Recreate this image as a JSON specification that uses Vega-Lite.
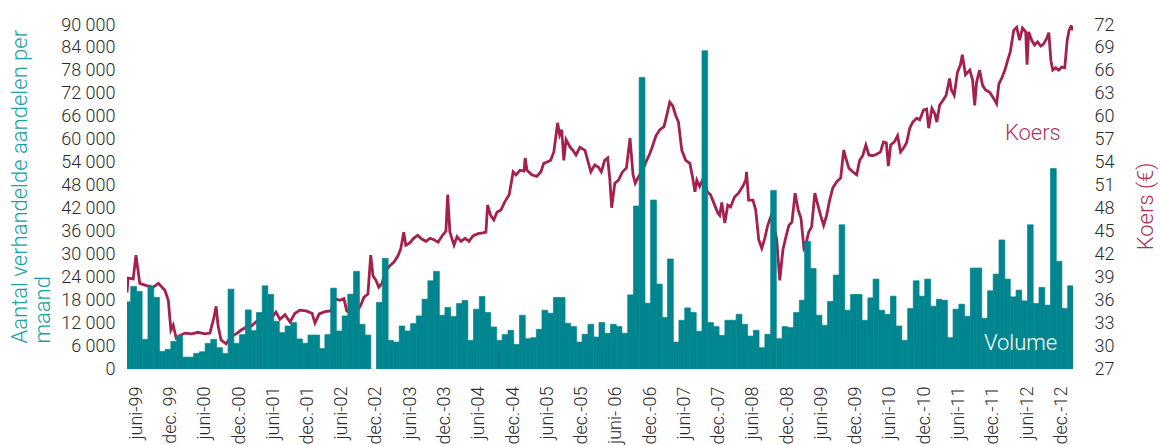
{
 "$schema": "https://vega.github.io/schema/vega-lite/v6.json",
 "width": 946,
 "height": 344,
 "autosize": {"type": "none"},
 "padding": {"left": 127, "top": 25, "right": 87, "bottom": 76},
 "background": "white",
 "config": {
  "view": {"stroke": null},
  "font": "Roboto",
  "axis": {"labelFont": "Roboto", "labelFontWeight": 300, "labelFontSize": 18, "labelColor": "#2b2b2b", "titleFont": "Roboto", "titleFontWeight": 300, "titleFontSize": 22, "labelFlush": false, "grid": false, "ticks": false, "domain": false, "labelOverlap": false},
  "axisX": {"labelOverlap": false, "labelBound": false, "labelSeparation": 0, "tickCount": 100}
 },
 "datasets": {
  "koers": [
   {"d":"1999-04-14","p":37.0},{"d":"1999-04-20","p":38.9},{"d":"1999-05-17","p":38.8},{"d":"1999-06-01","p":41.9},{"d":"1999-06-21","p":38.2},{"d":"1999-07-27","p":37.9},{"d":"1999-09-01","p":37.7},{"d":"1999-09-28","p":38.2},{"d":"1999-11-02","p":37.3},{"d":"1999-11-20","p":36.0},{"d":"1999-12-04","p":32.1},{"d":"1999-12-16","p":32.75},
   {"d":"2000-01-01","p":31.05},{"d":"2000-01-22","p":31.4},{"d":"2000-02-17","p":31.7},{"d":"2000-03-25","p":31.6},{"d":"2000-04-26","p":31.8},{"d":"2000-06-02","p":31.6},{"d":"2000-06-29","p":31.7},{"d":"2000-07-20","p":33.7},{"d":"2000-08-01","p":35.2},{"d":"2000-08-11","p":32.75},{"d":"2000-08-27","p":30.8},{"d":"2000-09-23","p":30.3},{"d":"2000-10-19","p":31.2},{"d":"2000-11-16","p":31.6},{"d":"2000-12-13","p":32.1},
   {"d":"2001-01-10","p":32.5},{"d":"2001-02-04","p":32.6},{"d":"2001-03-01","p":33.15},{"d":"2001-03-28","p":33.7},{"d":"2001-04-23","p":33.4},{"d":"2001-05-19","p":33.5},{"d":"2001-06-16","p":34.45},{"d":"2001-07-07","p":33.5},{"d":"2001-08-03","p":34.1},{"d":"2001-08-30","p":33.15},{"d":"2001-09-25","p":34.3},{"d":"2001-10-22","p":34.7},{"d":"2001-11-23","p":34.6},{"d":"2001-12-25","p":34.3},
   {"d":"2002-01-10","p":33.0},{"d":"2002-02-01","p":34.2},{"d":"2002-03-04","p":34.5},{"d":"2002-04-04","p":34.6},{"d":"2002-04-25","p":36.2},{"d":"2002-05-22","p":36.0},{"d":"2002-06-13","p":36.2},{"d":"2002-06-28","p":34.6},{"d":"2002-07-25","p":34.3},{"d":"2002-08-22","p":34.5},{"d":"2002-09-12","p":35.4},{"d":"2002-09-28","p":36.4},{"d":"2002-10-19","p":36.8},{"d":"2002-11-03","p":41.9},{"d":"2002-11-15","p":39.2},{"d":"2002-12-01","p":38.6},{"d":"2002-12-16","p":37.7},
   {"d":"2003-01-02","p":38.2},{"d":"2003-01-23","p":39.9},{"d":"2003-02-13","p":40.5},{"d":"2003-03-07","p":41.0},{"d":"2003-03-28","p":41.8},{"d":"2003-04-12","p":42.7},{"d":"2003-04-28","p":44.9},{"d":"2003-05-09","p":43.2},{"d":"2003-05-30","p":43.5},{"d":"2003-06-20","p":44.1},{"d":"2003-07-11","p":44.5},{"d":"2003-08-02","p":44.0},{"d":"2003-08-24","p":43.7},{"d":"2003-09-15","p":44.1},{"d":"2003-10-06","p":43.9},{"d":"2003-10-28","p":43.6},{"d":"2003-11-18","p":44.4},{"d":"2003-12-09","p":45.05},{"d":"2003-12-18","p":49.8},{"d":"2003-12-30","p":44.9},
   {"d":"2004-01-21","p":43.2},{"d":"2004-02-06","p":44.3},{"d":"2004-02-28","p":43.7},{"d":"2004-03-20","p":44.1},{"d":"2004-04-10","p":43.7},{"d":"2004-05-01","p":44.4},{"d":"2004-05-28","p":44.7},{"d":"2004-06-22","p":44.8},{"d":"2004-07-09","p":44.9},{"d":"2004-07-18","p":48.45},{"d":"2004-08-03","p":47.1},{"d":"2004-08-20","p":46.5},{"d":"2004-09-06","p":47.5},{"d":"2004-09-27","p":47.8},{"d":"2004-10-18","p":48.9},{"d":"2004-11-10","p":49.8},{"d":"2004-11-22","p":51.5},{"d":"2004-12-01","p":52.8},{"d":"2004-12-16","p":52.4},
   {"d":"2005-01-07","p":53.0},{"d":"2005-01-28","p":52.9},{"d":"2005-02-03","p":54.6},{"d":"2005-02-13","p":53.0},{"d":"2005-03-10","p":52.4},{"d":"2005-04-06","p":52.2},{"d":"2005-04-28","p":52.8},{"d":"2005-05-13","p":53.9},{"d":"2005-06-03","p":54.1},{"d":"2005-06-19","p":54.3},{"d":"2005-07-06","p":55.4},{"d":"2005-07-26","p":59.2},{"d":"2005-08-06","p":57.6},{"d":"2005-08-17","p":58.3},{"d":"2005-08-28","p":54.3},{"d":"2005-09-09","p":57.0},{"d":"2005-10-01","p":56.0},{"d":"2005-10-16","p":55.6},{"d":"2005-11-01","p":55.0},{"d":"2005-11-22","p":56.0},{"d":"2005-12-19","p":55.6},
   {"d":"2006-01-09","p":53.7},{"d":"2006-01-19","p":52.8},{"d":"2006-02-09","p":53.7},{"d":"2006-03-01","p":53.4},{"d":"2006-03-16","p":52.8},{"d":"2006-04-03","p":54.3},{"d":"2006-04-19","p":54.6},{"d":"2006-05-01","p":51.6},{"d":"2006-05-10","p":48.1},{"d":"2006-05-27","p":51.3},{"d":"2006-06-16","p":51.7},{"d":"2006-07-07","p":52.8},{"d":"2006-07-28","p":53.3},{"d":"2006-08-16","p":57.2},{"d":"2006-09-01","p":52.4},{"d":"2006-09-13","p":51.3},{"d":"2006-10-01","p":52.2},{"d":"2006-10-22","p":53.0},{"d":"2006-11-13","p":54.3},{"d":"2006-12-01","p":55.25},{"d":"2006-12-16","p":56.3},
   {"d":"2007-01-01","p":57.5},{"d":"2007-01-22","p":58.3},{"d":"2007-02-13","p":58.7},{"d":"2007-02-28","p":60.2},{"d":"2007-03-16","p":61.9},{"d":"2007-04-01","p":61.4},{"d":"2007-04-16","p":60.2},{"d":"2007-05-01","p":59.3},{"d":"2007-05-19","p":55.6},{"d":"2007-06-09","p":54.3},{"d":"2007-07-01","p":53.9},{"d":"2007-07-16","p":52.0},{"d":"2007-07-28","p":50.2},{"d":"2007-08-07","p":51.7},{"d":"2007-08-22","p":50.9},{"d":"2007-09-08","p":51.8},{"d":"2007-10-03","p":50.15},{"d":"2007-10-19","p":49.8},{"d":"2007-11-06","p":48.7},{"d":"2007-11-27","p":47.4},{"d":"2007-12-07","p":47.1},{"d":"2007-12-18","p":48.8},
   {"d":"2008-01-03","p":46.1},{"d":"2008-01-19","p":48.45},{"d":"2008-02-03","p":48.2},{"d":"2008-02-24","p":49.5},{"d":"2008-03-16","p":50.0},{"d":"2008-04-08","p":50.9},{"d":"2008-04-24","p":51.7},{"d":"2008-04-28","p":52.8},{"d":"2008-05-09","p":49.1},{"d":"2008-06-01","p":49.1},{"d":"2008-06-16","p":47.8},{"d":"2008-07-02","p":43.9},{"d":"2008-07-18","p":42.8},{"d":"2008-08-03","p":44.1},{"d":"2008-08-19","p":45.8},{"d":"2008-09-04","p":46.9},{"d":"2008-09-20","p":45.8},{"d":"2008-10-06","p":43.9},{"d":"2008-10-22","p":38.6},{"d":"2008-11-08","p":42.6},{"d":"2008-11-24","p":44.3},{"d":"2008-12-10","p":45.8},{"d":"2008-12-26","p":46.2},
   {"d":"2009-01-12","p":50.0},{"d":"2009-01-28","p":47.8},{"d":"2009-02-12","p":46.75},{"d":"2009-02-28","p":42.8},{"d":"2009-03-09","p":43.2},{"d":"2009-03-25","p":44.9},{"d":"2009-04-10","p":45.6},{"d":"2009-04-27","p":50.0},{"d":"2009-05-13","p":48.45},{"d":"2009-05-28","p":47.1},{"d":"2009-06-13","p":45.8},{"d":"2009-06-29","p":47.1},{"d":"2009-07-15","p":49.1},{"d":"2009-08-01","p":50.7},{"d":"2009-08-22","p":51.5},{"d":"2009-09-12","p":52.0},{"d":"2009-09-28","p":55.65},{"d":"2009-10-09","p":54.6},{"d":"2009-10-25","p":53.3},{"d":"2009-11-15","p":52.8},{"d":"2009-12-06","p":52.4},{"d":"2009-12-22","p":54.3},
   {"d":"2010-01-07","p":54.9},{"d":"2010-01-24","p":56.3},{"d":"2010-02-09","p":55.0},{"d":"2010-03-01","p":54.9},{"d":"2010-03-22","p":55.1},{"d":"2010-04-12","p":55.4},{"d":"2010-04-28","p":56.7},{"d":"2010-05-13","p":56.6},{"d":"2010-05-24","p":53.55},{"d":"2010-06-05","p":56.3},{"d":"2010-06-25","p":56.7},{"d":"2010-07-12","p":57.5},{"d":"2010-07-28","p":55.4},{"d":"2010-08-13","p":55.9},{"d":"2010-08-29","p":56.6},{"d":"2010-09-15","p":58.5},{"d":"2010-10-01","p":59.3},{"d":"2010-10-22","p":59.8},{"d":"2010-11-07","p":59.6},{"d":"2010-11-28","p":60.9},{"d":"2010-12-14","p":61.0},{"d":"2010-12-25","p":58.5},
   {"d":"2011-01-11","p":61.1},{"d":"2011-01-27","p":60.35},{"d":"2011-02-06","p":59.3},{"d":"2011-02-21","p":61.5},{"d":"2011-03-12","p":62.2},{"d":"2011-03-28","p":62.8},{"d":"2011-04-15","p":65.0},{"d":"2011-04-25","p":63.5},{"d":"2011-05-10","p":62.8},{"d":"2011-05-27","p":65.8},{"d":"2011-06-12","p":66.8},{"d":"2011-06-22","p":68.1},{"d":"2011-07-09","p":65.5},{"d":"2011-08-01","p":66.1},{"d":"2011-08-16","p":64.8},{"d":"2011-08-27","p":61.5},{"d":"2011-09-06","p":64.5},{"d":"2011-09-22","p":66.1},{"d":"2011-10-08","p":64.1},{"d":"2011-10-24","p":63.5},{"d":"2011-11-15","p":63.2},{"d":"2011-12-06","p":62.4},{"d":"2011-12-22","p":61.7},
   {"d":"2012-01-03","p":64.3},{"d":"2012-01-19","p":65.1},{"d":"2012-02-04","p":66.1},{"d":"2012-02-19","p":67.4},{"d":"2012-03-04","p":68.5},{"d":"2012-03-22","p":71.3},{"d":"2012-04-07","p":71.7},{"d":"2012-04-22","p":70.0},{"d":"2012-05-08","p":71.6},{"d":"2012-05-25","p":71.1},{"d":"2012-06-01","p":66.8},{"d":"2012-06-10","p":71.1},{"d":"2012-06-26","p":70.0},{"d":"2012-07-11","p":69.4},{"d":"2012-07-27","p":69.8},{"d":"2012-08-13","p":69.25},{"d":"2012-08-28","p":69.5},{"d":"2012-09-15","p":70.3},{"d":"2012-09-25","p":71.0},{"d":"2012-10-06","p":67.4},{"d":"2012-10-16","p":66.1},{"d":"2012-11-01","p":66.4},{"d":"2012-11-17","p":66.1},{"d":"2012-12-03","p":66.5},{"d":"2012-12-19","p":66.4},
   {"d":"2013-01-01","p":70.0},{"d":"2013-01-11","p":71.3},{"d":"2013-01-22","p":71.9},{"d":"2013-02-01","p":71.3}
  ],
  "vol": [
   {"m":"1999-04-01","v":17560},{"m":"1999-05-01","v":21600},{"m":"1999-06-01","v":20290},{"m":"1999-07-01","v":7750},{"m":"1999-08-01","v":21600},{"m":"1999-09-01","v":18710},{"m":"1999-10-01","v":4600},{"m":"1999-11-01","v":5120},{"m":"1999-12-01","v":7230},
   {"m":"2000-01-01","v":8800},{"m":"2000-02-01","v":3100},{"m":"2000-03-01","v":3100},{"m":"2000-04-01","v":4070},{"m":"2000-05-01","v":4510},{"m":"2000-06-01","v":6700},{"m":"2000-07-01","v":7750},{"m":"2000-08-01","v":5570},{"m":"2000-09-01","v":4070},{"m":"2000-10-01","v":20890},{"m":"2000-11-01","v":6700},{"m":"2000-12-01","v":8990},
   {"m":"2001-01-01","v":15450},{"m":"2001-02-01","v":10040},{"m":"2001-03-01","v":14770},{"m":"2001-04-01","v":21760},{"m":"2001-05-01","v":19500},{"m":"2001-06-01","v":12480},{"m":"2001-07-01","v":9510},{"m":"2001-08-01","v":11250},{"m":"2001-09-01","v":12140},{"m":"2001-10-01","v":7850},{"m":"2001-11-01","v":6740},{"m":"2001-12-01","v":8880},
   {"m":"2002-01-01","v":8880},{"m":"2002-02-01","v":5350},{"m":"2002-03-01","v":8990},{"m":"2002-04-01","v":21150},{"m":"2002-05-01","v":9930},{"m":"2002-06-01","v":13880},{"m":"2002-07-01","v":19580},{"m":"2002-08-01","v":25540},{"m":"2002-09-01","v":11690},{"m":"2002-10-01","v":8880},{"m":"2002-12-01","v":17390},
   {"m":"2003-01-01","v":28950},{"m":"2003-02-01","v":7490},{"m":"2003-03-01","v":7050},{"m":"2003-04-01","v":11250},{"m":"2003-05-01","v":9940},{"m":"2003-06-01","v":11870},{"m":"2003-07-01","v":13880},{"m":"2003-08-01","v":18260},{"m":"2003-09-01","v":23080},{"m":"2003-10-01","v":25540},{"m":"2003-11-01","v":14060},{"m":"2003-12-01","v":16080},
   {"m":"2004-01-01","v":13720},{"m":"2004-02-01","v":17130},{"m":"2004-03-01","v":17920},{"m":"2004-04-01","v":7490},{"m":"2004-05-01","v":15640},{"m":"2004-06-01","v":18970},{"m":"2004-07-01","v":14770},{"m":"2004-08-01","v":10990},{"m":"2004-09-01","v":7490},{"m":"2004-10-01","v":8990},{"m":"2004-11-01","v":10120},{"m":"2004-12-01","v":6440},
   {"m":"2005-01-01","v":14060},{"m":"2005-02-01","v":7930},{"m":"2005-03-01","v":8190},{"m":"2005-04-01","v":10380},{"m":"2005-05-01","v":15370},{"m":"2005-06-01","v":14590},{"m":"2005-07-01","v":18710},{"m":"2005-08-01","v":18710},{"m":"2005-09-01","v":11960},{"m":"2005-10-01","v":11090},{"m":"2005-11-01","v":7040},{"m":"2005-12-01","v":9070},
   {"m":"2006-01-01","v":11690},{"m":"2006-02-01","v":8360},{"m":"2006-03-01","v":12140},{"m":"2006-04-01","v":9330},{"m":"2006-05-01","v":11690},{"m":"2006-06-01","v":11090},{"m":"2006-07-01","v":9330},{"m":"2006-08-01","v":19390},{"m":"2006-09-01","v":42630},{"m":"2006-10-01","v":76260},{"m":"2006-11-01","v":17210},{"m":"2006-12-01","v":44200},
   {"m":"2007-01-01","v":22210},{"m":"2007-02-01","v":13460},{"m":"2007-03-01","v":28780},{"m":"2007-04-01","v":7040},{"m":"2007-05-01","v":12750},{"m":"2007-06-01","v":15980},{"m":"2007-07-01","v":14770},{"m":"2007-08-01","v":9860},{"m":"2007-09-01","v":83260},{"m":"2007-10-01","v":12140},{"m":"2007-11-01","v":11090},{"m":"2007-12-01","v":8800},
   {"m":"2008-01-01","v":12750},{"m":"2008-02-01","v":12750},{"m":"2008-03-01","v":14320},{"m":"2008-04-01","v":11690},{"m":"2008-05-01","v":8620},{"m":"2008-06-01","v":10120},{"m":"2008-07-01","v":5570},{"m":"2008-08-01","v":9070},{"m":"2008-09-01","v":46730},{"m":"2008-10-01","v":7930},{"m":"2008-11-01","v":11090},{"m":"2008-12-01","v":10830},
   {"m":"2009-01-01","v":14770},{"m":"2009-02-01","v":18000},{"m":"2009-03-01","v":33430},{"m":"2009-04-01","v":26330},{"m":"2009-05-01","v":14060},{"m":"2009-06-01","v":11430},{"m":"2009-07-01","v":17660},{"m":"2009-08-01","v":24570},{"m":"2009-09-01","v":37710},{"m":"2009-10-01","v":15370},{"m":"2009-11-01","v":19500},{"m":"2009-12-01","v":19500},
   {"m":"2010-01-01","v":12750},{"m":"2010-02-01","v":18610},{"m":"2010-03-01","v":23520},{"m":"2010-04-01","v":15370},{"m":"2010-05-01","v":14320},{"m":"2010-06-01","v":19050},{"m":"2010-07-01","v":11250},{"m":"2010-08-01","v":7490},{"m":"2010-09-01","v":15820},{"m":"2010-10-01","v":23080},{"m":"2010-11-01","v":19050},{"m":"2010-12-01","v":23520},
   {"m":"2011-01-01","v":16430},{"m":"2011-02-01","v":18260},{"m":"2011-03-01","v":18000},{"m":"2011-04-01","v":8200},{"m":"2011-05-01","v":15640},{"m":"2011-06-01","v":16950},{"m":"2011-07-01","v":13800},{"m":"2011-08-01","v":26410},{"m":"2011-09-01","v":26410},{"m":"2011-10-01","v":13270},{"m":"2011-11-01","v":20450},{"m":"2011-12-01","v":24830},
   {"m":"2012-01-01","v":33770},{"m":"2012-02-01","v":23520},{"m":"2012-03-01","v":18870},{"m":"2012-04-01","v":20630},{"m":"2012-05-01","v":17820},{"m":"2012-06-01","v":37710},{"m":"2012-07-01","v":17130},{"m":"2012-08-01","v":21340},{"m":"2012-09-01","v":16690},{"m":"2012-10-01","v":52430},{"m":"2012-11-01","v":28170},{"m":"2012-12-01","v":15820},
   {"m":"2013-01-01","v":21760}
  ]
 },
 "layer": [
  {
   "data": {"name": "koers"},
   "mark": {"type": "line", "color": "#a4214f", "strokeWidth": 2.8, "clip": true},
   "encoding": {
    "x": {"field": "d", "type": "temporal", "title": null,
     "scale": {"type": "utc", "domain": [924048000000, 1359676800000]},
     "axis": {
      "values": [928195200000, 944006400000, 959817600000, 975628800000, 991353600000, 1007164800000, 1022889600000, 1038700800000, 1054425600000, 1070236800000, 1086048000000, 1101859200000, 1117584000000, 1133395200000, 1149120000000, 1164931200000, 1180656000000, 1196467200000, 1212278400000, 1228089600000, 1243814400000, 1259625600000, 1275350400000, 1291161600000, 1306886400000, 1322697600000, 1338508800000, 1354320000000],
      "tickCount": 100,
      "labelExpr": "utcmonth(datum.value) == 5 ? (utcyear(datum.value) == 2006 ? 'juni- 06' : 'juni-' + utcFormat(datum.value, '%y')) : (utcyear(datum.value) == 1999 ? 'dec. 99' : 'dec.-' + utcFormat(datum.value, '%y'))",
      "labelAngle": 270, "labelAlign": "right", "labelBaseline": "middle", "labelPadding": 17, "labelOverlap": false, "labelBound": false, "labelSeparation": 0, "title": null
     }
    },
    "y": {"field": "p", "type": "quantitative",
     "scale": {"domain": [27, 72], "nice": false, "zero": false},
     "axis": {"orient": "right", "values": [27,30,33,36,39,42,45,48,51,54,57,60,63,66,69,72], "tickCount": 100, "format": "d", "labelPadding": 21, "labelAlign": "left",
      "title": "Koers (€)", "titleColor": "#ad2f61", "titleAngle": 270, "titleAlign": "center", "titleBaseline": "alphabetic", "titleX": 79, "titleY": 181}
    }
   }
  },
  {
   "data": {"name": "vol"},
   "mark": {"type": "bar", "color": "#01858e", "stroke": "#01858e", "strokeWidth": 0.7, "clip": true, "binSpacing": 0},
   "encoding": {
    "x": {"field": "m", "timeUnit": "utcyearmonth", "type": "temporal", "title": null,
     "axis": {
      "values": [928195200000, 944006400000, 959817600000, 975628800000, 991353600000, 1007164800000, 1022889600000, 1038700800000, 1054425600000, 1070236800000, 1086048000000, 1101859200000, 1117584000000, 1133395200000, 1149120000000, 1164931200000, 1180656000000, 1196467200000, 1212278400000, 1228089600000, 1243814400000, 1259625600000, 1275350400000, 1291161600000, 1306886400000, 1322697600000, 1338508800000, 1354320000000],
      "tickCount": 100,
      "labelExpr": "utcmonth(datum.value) == 5 ? (utcyear(datum.value) == 2006 ? 'juni- 06' : 'juni-' + utcFormat(datum.value, '%y')) : (utcyear(datum.value) == 1999 ? 'dec. 99' : 'dec.-' + utcFormat(datum.value, '%y'))",
      "labelAngle": 270, "labelAlign": "right", "labelBaseline": "middle", "labelPadding": 17, "labelOverlap": false, "labelBound": false, "labelSeparation": 0, "title": null
     }
    },
    "y": {"field": "v", "type": "quantitative",
     "scale": {"domain": [0, 90000], "nice": false},
     "axis": {"orient": "left", "values": [0,6000,12000,18000,24000,30000,36000,42000,48000,54000,60000,66000,72000,78000,84000,90000], "tickCount": 100,
      "labelExpr": "replace(format(datum.value, ','), ',', ' ')", "labelPadding": 12,
      "title": ["Aantal verhandelde aandelen per", "maand"], "titleColor": "#1a9fa3", "titleAngle": 270, "titleAlign": "left", "titleBaseline": "alphabetic", "titleLineHeight": 23, "titleX": -101, "titleY": 318}
    }
   }
  },
  {
   "data": {"values": [{"d": "2012-02-04", "p": 57.0, "t": "Koers"}]},
   "mark": {"type": "text", "align": "left", "baseline": "alphabetic", "fontSize": 22, "font": "Roboto", "fontWeight": 300, "color": "#ad3466"},
   "encoding": {
    "x": {"field": "d", "type": "temporal", "title": null, "scale": {"type": "utc"}},
    "y": {"field": "p", "type": "quantitative", "scale": {"domain": [27, 72], "nice": false, "zero": false}, "axis": null},
    "text": {"field": "t"}
   }
  },
  {
   "data": {"values": [{"d": "2011-10-15", "v": 5000, "t": "Volume"}]},
   "mark": {"type": "text", "align": "left", "baseline": "alphabetic", "fontSize": 22, "font": "Roboto", "fontWeight": 300, "color": "white"},
   "encoding": {
    "x": {"field": "d", "type": "temporal", "title": null, "scale": {"type": "utc"}},
    "y": {"field": "v", "type": "quantitative", "scale": {"domain": [0, 90000], "nice": false}, "axis": null},
    "text": {"field": "t"}
   }
  }
 ],
 "resolve": {"scale": {"y": "independent"}, "axis": {"y": "independent"}}
}
